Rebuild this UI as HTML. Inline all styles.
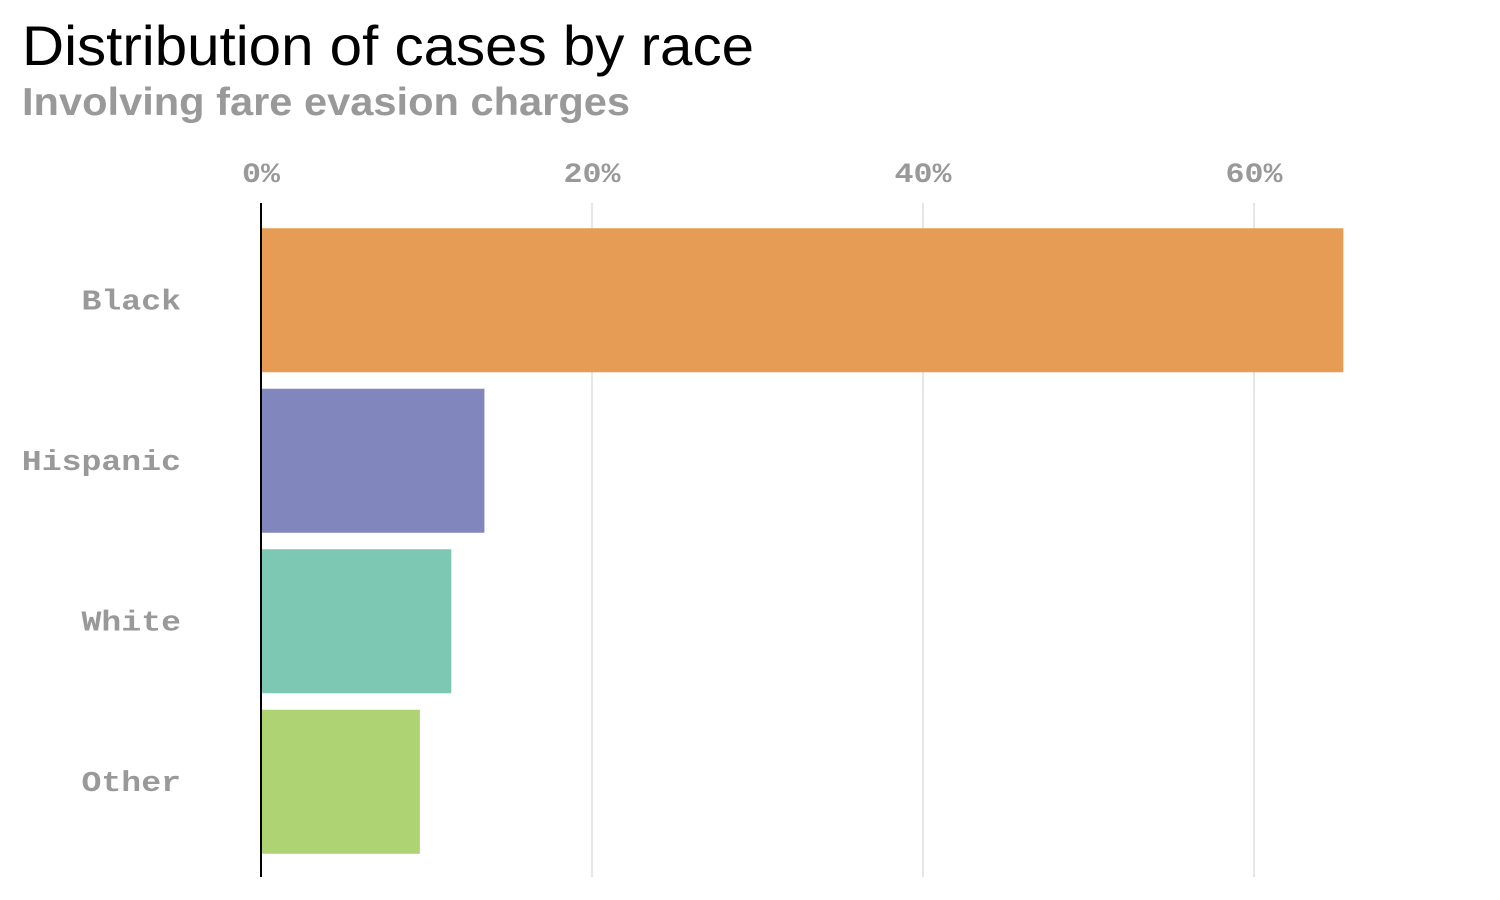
<!DOCTYPE html>
<html><head><meta charset="utf-8"><style>
html,body{margin:0;padding:0;background:#fff;width:1500px;height:900px;overflow:hidden}
</style></head><body>
<svg width="1500" height="900" xmlns="http://www.w3.org/2000/svg">
<text x="22" y="65" font-family="Liberation Sans, sans-serif" font-size="56" fill="#000" textLength="732" lengthAdjust="spacingAndGlyphs">Distribution of cases by race</text>
<text x="22" y="115" font-family="Liberation Sans, sans-serif" font-size="39" font-weight="bold" fill="#999" textLength="608" lengthAdjust="spacingAndGlyphs">Involving fare evasion charges</text>
<g id="grid"></g><g id="bars"></g><g id="labels"></g>
<line x1="261" y1="203" x2="261" y2="877" stroke="#000" stroke-width="2"/>
</svg>
<script>
const categories=["Black","Hispanic","White","Other"];
const values=[65.4,13.5,11.5,9.6];
const colors=["#E69C55","#8186BC","#7DC8B2","#ADD373"];
const ticks=[0,20,40,60];
const tickLabels=["0%","20%","40%","60%"];
const ns="http://www.w3.org/2000/svg";
const x=v=>261+v*16.55;
const band=160.5,top0=220,barH=144;
const y=i=>top0+i*band+(band-barH)/2;
const g=document.getElementById("grid"),b=document.getElementById("bars"),l=document.getElementById("labels");
function mk(tag,attrs,parent){const e=document.createElementNS(ns,tag);for(const k in attrs)e.setAttribute(k,attrs[k]);parent.appendChild(e);return e;}
ticks.forEach((t,i)=>{
 const ln=mk("line",{x1:x(t),x2:x(t),y1:203,y2:877,stroke:"#ddd","stroke-width":1.5},g);
 
 
 const tx=mk("text",{x:x(t),y:182,"text-anchor":"middle","font-family":"Liberation Mono, monospace","font-size":28,"font-weight":"bold",fill:"#999",textLength:19*tickLabels[i].length,lengthAdjust:"spacingAndGlyphs"},g);
 tx.textContent=tickLabels[i];
 
 
});
categories.forEach((c,i)=>{
 const r=mk("rect",{x:x(0),y:y(i),width:x(values[i])-x(0),height:barH,fill:colors[i]},b);
 
 
 const tx=mk("text",{x:181,y:y(i)+barH/2+9,"text-anchor":"end","font-family":"Liberation Mono, monospace","font-size":29,"font-weight":"bold",fill:"#999",textLength:19.9*c.length,lengthAdjust:"spacingAndGlyphs"},l);
 tx.textContent=c;
 
 
});
</script>
</body></html>
